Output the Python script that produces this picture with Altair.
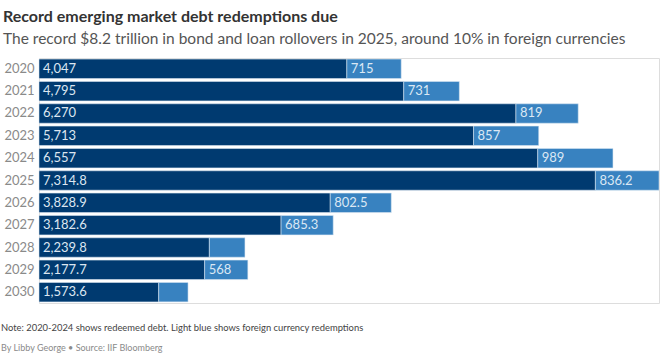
import altair as alt
import pandas as pd

years = ["2020", "2021", "2022", "2023", "2024", "2025", "2026", "2027", "2028", "2029", "2030"]
local_vals = [4047, 4795, 6270, 5713, 6557, 7314.8, 3828.9, 3182.6, 2239.8, 2177.7, 1573.6]
foreign_vals = [715, 731, 819, 857, 989, 836.2, 802.5, 685.3, 468, 568, 386]
local_labels = ["4,047", "4,795", "6,270", "5,713", "6,557", "7,314.8", "3,828.9", "3,182.6", "2,239.8", "2,177.7", "1,573.6"]
foreign_labels = ["715", "731", "819", "857", "989", "836.2", "802.5", "685.3", "", "568", ""]

title = "Record emerging market debt redemptions due"
subtitle = "The record $8.2 trillion in bond and loan rollovers in 2025, around 10% in foreign currencies"
note = "Note: 2020-2024 shows redeemed debt. Light blue shows foreign currency redemptions"
credit = "By Libby George \u2022 Source: IIF Bloomberg"

rows = []
for y, l, f, ll, fl in zip(years, local_vals, foreign_vals, local_labels, foreign_labels):
    rows.append({"year": y, "seg": "local", "start": 0, "end": l, "label": ll})
    rows.append({"year": y, "seg": "foreign", "start": l, "end": l + f, "label": fl})
df = pd.DataFrame(rows)

FONT = "Lato"
xscale = alt.Scale(domain=[0, max(a + b for a, b in zip(local_vals, foreign_vals))], nice=False, zero=True)
yscale = alt.Scale(domain=years, paddingInner=0.13, paddingOuter=0.05)

base = alt.Chart(df)

bars = base.mark_bar(stroke="#dbe8f3", strokeWidth=0.8, strokeOpacity=0.7).encode(
    x=alt.X("start:Q", scale=xscale, axis=None),
    x2="end:Q",
    y=alt.Y("year:N", scale=yscale, sort=years,
            axis=alt.Axis(title=None, domain=False, ticks=False, labelAlign="left",
                          labelPadding=35, labelColor="#8a8a8a", labelFontSize=13,
                          labelFont=FONT)),
    color=alt.Color("seg:N", scale=alt.Scale(domain=["local", "foreign"], range=["#003a70", "#3882c0"]),
                    legend=None),
)

labels = base.mark_text(align="left", baseline="middle", dx=4, fontSize=13, font=FONT).encode(
    x=alt.X("start:Q", scale=xscale),
    y=alt.Y("year:N", scale=yscale, sort=years),
    text="label:N",
    color=alt.Color("seg:N", scale=alt.Scale(domain=["local", "foreign"], range=["#dce6f0", "#dbe8f4"]),
                    legend=None),
)

note_layer = alt.Chart(pd.DataFrame({"t": [note]})).mark_text(
    align="left", baseline="alphabetic", fontSize=9.4, font=FONT, color="#444"
).encode(x=alt.value(-38), y=alt.value(273), text="t:N")

credit_layer = alt.Chart(pd.DataFrame({"t": [credit]})).mark_text(
    align="left", baseline="alphabetic", fontSize=9, font=FONT, color="#8a8a8a"
).encode(x=alt.value(-38), y=alt.value(293), text="t:N")

chart = alt.layer(bars, labels, note_layer, credit_layer).resolve_scale(color="independent").properties(
    width=620,
    height=245,
    autosize=alt.AutoSizeParams(type="none"),
    padding={"left": 39, "top": 58, "right": 2, "bottom": 52},
    title=alt.TitleParams(
        text=title, subtitle=subtitle, anchor="start", frame="group", dx=-36, offset=11,
        font=FONT, fontSize=16, fontWeight="bold", color="#333333",
        subtitleFont=FONT, subtitleFontSize=15.5, subtitleColor="#555555", subtitlePadding=7,
    ),
).configure_view(stroke=None).configure(background="white")

chart.save("out.html", embed_options={"renderer": "svg", "actions": False})
